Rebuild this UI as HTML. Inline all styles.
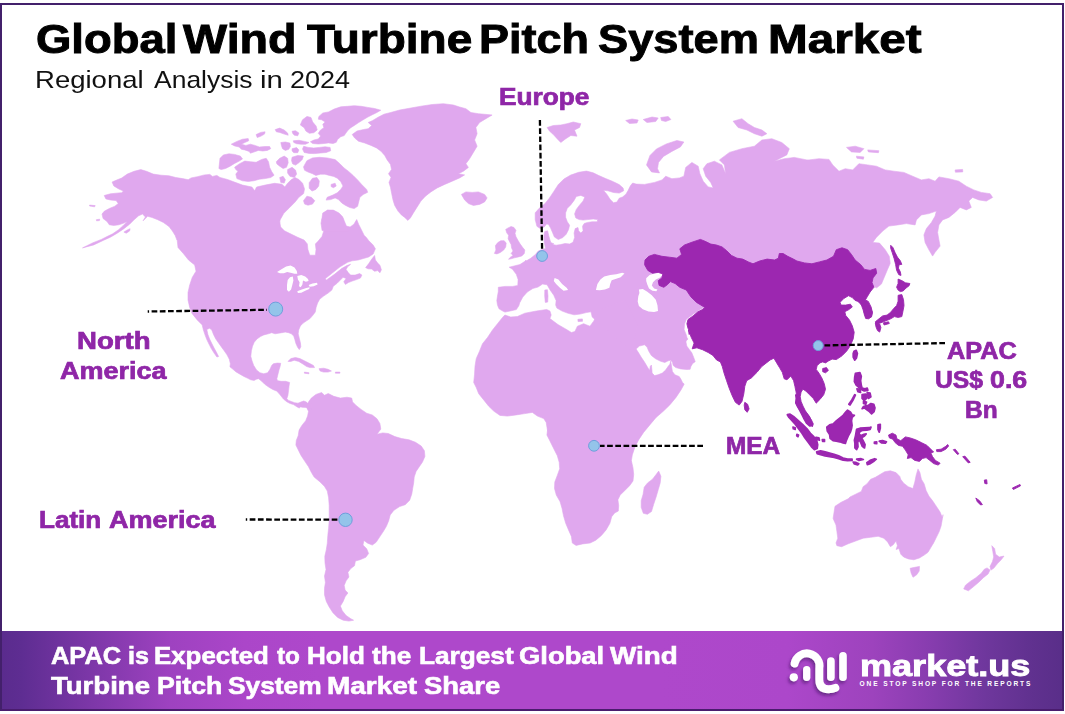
<!DOCTYPE html>
<html><head><meta charset="utf-8">
<style>
html,body{margin:0;padding:0;background:#fff;}
body{width:1065px;height:714px;position:relative;overflow:hidden;font-family:"Liberation Sans",sans-serif;}
.t{position:absolute;white-space:nowrap;line-height:1;transform-origin:0 0;}
.lbl{color:#9327ab;font-weight:bold;font-size:23px;-webkit-text-stroke:0.7px #9327ab;word-spacing:-2px;}
.bn{color:#fff;font-weight:bold;font-size:22.5px;-webkit-text-stroke:0.6px #fff;word-spacing:-2px;}
#frame{position:absolute;left:0;top:3px;width:1060px;height:703.5px;border:2px solid #43206b;border-bottom:2px solid #4a1c6e;box-sizing:content-box;}
#banner{position:absolute;left:0;top:631px;width:1064px;height:78.5px;background:linear-gradient(90deg,#5a2b8d 0%,#5e2d92 2%,#7a36a6 8%,#9e42c0 16%,#ab46c9 23%,#ae48cb 30%,#ae48cb 62%,#ac47ca 74%,#9d43bd 82%,#893db0 87%,#6f379d 92.5%,#60318f 97%,#592e89 100%);}
svg{position:absolute;left:0;top:0;}
</style></head><body>
<svg id="map" width="1065" height="714" viewBox="0 0 1065 714">
<g id="light" fill="#e0a8ee" stroke="#e0a8ee" stroke-width="0.6" stroke-linejoin="round">
<path d="M352.2,134.5 357,131 363.7,129.5 368.2,128.7 371.7,125.5 368.2,122.5 372.7,120.5 378.5,117 384,114.2 390.7,112.5 399.7,110 410.9,108 420.9,106.2 432.2,104.5 443.4,103.7 453.4,105 459.6,107 465.9,108.7 470.9,112.5 478.4,113.7 487.1,114.5 492.1,115 485.9,118.7 479.6,122.5 475.9,127.5 477.1,133.7 474.6,140 477.1,146.2 473.4,152.4 469.6,158.7 465.9,163.7 468.4,167.4 463.4,171.2 458.4,173.7 464.6,174.9 459.6,177.9 452.2,181.2 444.7,184.4 437.2,187.9 430.9,191.9 425.4,196.2 420.9,201.1 417.2,206.9 413.4,212.9 410.4,217.9 407.9,220.4 404.7,217.4 401.4,214.9 398,211.1 394.7,205.4 393,199.9 391.7,193.7 390.5,187.4 389,182.4 391,177.4 388.5,173.7 391.5,169.4 390.5,164.4 387.2,159.9 384.7,155.4 381,151.2 376.5,147.9 371,145.4 364.7,143 358.5,141.2 354.7,138Z M461.4,194.4 465.9,191.9 472.1,192.4 478.4,191.9 484.6,194.4 487.1,197.9 484.6,201.9 479.6,204.4 473.4,205.4 468.4,203.6 464.6,199.9Z M547.1,127.5 553.3,125.5 560.8,125 567,123.7 573.3,122 580.8,123.7 579.5,127.5 574.5,130 577,136.2 570.8,135.5 565.8,138.7 560.8,142.5 557.1,138.7 553.3,134.5 549.6,131.2Z M82.5,247.9 92.5,242.9 101.4,239.4 107,236.6 112.7,233.8 118.3,229.9 122.8,225.9 127.3,221.4 123.9,223.1 118.9,224.8 113.8,225.4 109.3,224.8 107,221.4 103.1,218.6 102,214.1 104.2,211.3 109.3,208.5 114.9,206.2 118.3,203.4 116.1,200.6 110.4,200 105.9,198.9 104.2,195.5 110.4,193.8 116.1,193.2 121.7,192.7 123.4,191 118.3,188.7 113.8,185.9 112.1,182 116.1,180.3 121.7,178 127.3,174.1 134.1,171.3 140.8,169.6 146.5,171.3 153.2,174.1 161.1,175.2 169,175.8 175.8,177.5 182.5,178.6 188.2,179.7 191.1,177.9 197.4,176.7 204.4,174.9 209.9,174.4 212.4,176.4 216.9,175.4 219.9,177.4 227.5,179.5 235,182.3 242.5,185.1 251.9,187 254.7,190.8 256.6,187 265.1,185.1 274.5,183.3 282,184.2 284.8,187 287.6,183.3 291.4,179.5 295.1,177.6 298.9,179.5 302.6,183.3 304.5,188.9 303.6,193.6 298.9,197.3 295.1,202 289.5,207.7 283.8,213.3 280.1,219.9 279.2,226.5 279.7,222.3 280.7,227 284.4,230.8 290,233.6 297.6,237.3 304.1,240.1 307.3,243.9 307.9,249.5 309.8,255.2 315.4,255.2 316,249.5 315.4,243.9 318.2,241.1 322,236.4 323.8,230.8 322.9,225.1 322,219.5 323.8,213.8 327.6,210.1 333.2,210.1 338.9,212.9 342.6,216.7 344.5,221.4 346.4,226.1 350.1,227 353.9,224.2 356.7,219.5 358.6,224.2 361.4,229.8 364.2,235.4 366.4,237.5 368.6,240.5 373.1,245 375.4,248.8 373.1,254 368.6,257 363.4,258.5 358.1,260 352.1,260.8 347.6,262.3 340.1,266.8 332.6,272.8 325.1,278.8 326.6,279.9 334.1,274.6 341.6,268.6 346.9,265.6 350.6,264.3 347.6,266.8 346.1,269.4 348.4,272.8 350.6,275.1 355.1,275.1 359.6,273.6 361.9,275.1 360.4,278.1 356.6,279.6 352.1,281.1 348.4,282.6 345.4,284.4 343.8,281.8 346.1,278.4 343.1,277.3 340.1,280.3 337.1,283.3 333.3,286.3 331.8,290.1 328.1,293.1 323.6,296.1 319.8,299.1 317.6,302.9 316.1,307.4 315.3,311.9 313.4,314.6 310,318.6 306.6,320.8 303.2,323.1 300.4,325.9 298.7,329.9 298.2,333.8 299.3,338.3 300.4,342.8 300.8,346.8 299.3,349.6 297.6,347.3 295.9,343.4 294.8,339.4 293.7,336.1 291.4,333.8 288.6,332.7 285.2,332.1 281.8,332.7 278.5,333.2 275.1,333.8 271.7,332.7 268.3,333.8 263.8,334.9 260.4,336.6 257,338.9 254.2,342.3 252.5,346.2 251.4,350.7 250.8,356.3 252,360.8 253.7,365.4 256.5,369.9 259.9,372.7 263.8,373.8 267.7,372.7 270,369.3 271.7,365.4 273.4,363.7 277.3,363.1 280.7,363.3 280.1,366.5 279,369.9 277.9,374.4 276.8,378.9 277.7,380.7 281.1,381.3 285.6,381.3 289.6,382.4 289,386.3 288.5,390.8 287.9,395.4 286.8,398.7 288.5,400.4 291.3,401.5 294.6,402.7 298,403.2 300.8,402.1 303.7,401 306.5,402.1 308.2,404.4 311.5,403.2 311.5,408.9 308.2,408.9 305.9,406.6 304.2,404.4 301.4,406.1 299.2,408 296.9,406.8 293.5,404.6 290.1,403.5 286.8,401.8 283.4,399 281.1,396.1 278.9,393.3 276.6,391.1 272.7,389.4 268.7,387.1 264.8,384.3 261.4,380.9 258.6,378.7 256.3,379.2 254.1,380.4 250.7,379.8 247.3,378.1 243.9,376.4 240,374.2 236.1,371.9 232.7,369.1 229.9,366.8 230.4,363.8 229.3,359.3 227,354.8 224.2,350.8 221.4,346.9 218.6,343 215.8,339 213.5,334.5 211.8,330 209.6,328.3 206.8,329.4 207.9,334.5 209.6,339 211.8,343.5 214.1,348 216.3,352 218.6,356.5 216.9,357 214.1,353.1 211.3,348.6 209,344.1 206.8,339.6 205.1,335.1 203.4,330 202.2,324.9 197.2,319.9 192.2,313.7 189.7,307.4 188,299.9 188,292.5 189.7,285 192.2,277.5 196,271.2 194.7,265 188.5,260 183.5,253.7 178,247.5 177.2,240 176.9,240 175.2,235.5 172.4,231 169,226.5 163.4,222.5 157.7,219.7 152.1,217.5 147.6,216.3 143.1,220.8 145.4,216.9 142.5,214.1 138.6,215.8 134.1,219.7 129.6,224.2 123.9,228.7 117.2,233.2 110.4,237.2 103.7,240.2 93.7,244.9Z M89.6,205.1 95.2,205.6 94.6,206.8 89.6,206Z M96.3,219.7 99.7,219.2 99.4,220.6 96.6,220.8Z M123.9,232.1 127.3,229.9 130.1,228.7 129.6,231 126.2,233.2Z M365.6,267.6 368.6,263.8 371.6,259.3 374.6,255.5 375.4,260 377.7,263.1 379.9,265.3 381.4,269.8 379.9,272.8 377.7,270.6 374.6,271.3 371.6,269.1 367.9,268.8Z M288,361.4 290.8,358.6 295.4,357.5 299.9,358.6 304.4,360.8 308.9,363.1 313.4,365.4 314.5,367.6 310,367.6 306.6,366.5 303.2,364.2 298.7,361.4 294.2,360.3 290.8,361.4Z M319,368.7 323.5,368.2 328,369.3 331.4,371 328,372.1 323.5,372.1 320.1,371Z M304.4,372.1 308.9,372.7 308.9,373.8 304.4,373.2Z M335.4,372.1 339.9,372.1 339.9,373.2 335.4,373.2Z M220,158.3 223.4,154.9 229,153.8 234.6,154.4 240.3,156.1 242.5,158.9 239.2,161.1 234.6,163.4 230.1,166.2 225.6,168.5 221.1,169.6 218.9,168.5Z M234.6,167.3 239.2,163.9 244.8,161.1 250.4,161.7 256.1,162.3 261.7,159.4 266.2,158.3 268.5,161.7 269.6,167.3 271.8,171.8 274.1,175.2 270.7,177.5 265.1,178.6 259.4,179.2 253.8,180.8 248.2,181.4 242.5,180.8 236.9,178.6 235.8,174.1 238,171.3 235.8,169.6Z M231.3,144.2 236.9,141.4 242.5,139.2 248.2,138.6 248.7,140.8 244.8,142.5 241.4,144.2 245.9,145.4 250.4,144.2 254.9,145.4 259.4,147 265.1,146.5 269.6,146.5 270.7,148.7 267.3,150.4 262.8,151 258.3,150.4 253.8,152.1 250.4,153.2 249.3,151.5 244.8,149.9 241.4,149.3 239.2,147 234.6,145.9Z M256.1,134.6 260.6,132.4 265.1,131.8 264.5,134.1 260.6,136.3 257.2,137.5Z M275.2,129.6 279.7,128.1 284.2,130.1 287.6,133 288.2,135.2 284.2,134.1 279.7,132.4 276.3,131.8Z M292.1,131.3 295.5,130.7 298.9,133 297.7,135.8 294.4,135.2 292.7,133.5Z M280.8,142.5 285.4,142 289.9,143.1 290.4,146.5 288.7,149.3 285.4,150.4 282.5,148.7 281.4,145.4Z M293.2,140.8 298.9,140.3 304.5,141.4 309,142.5 305.6,144.2 301.1,144.2 296.6,143.7 293.8,142.5Z M292.1,148.7 296.6,147.6 298.9,149.9 297.7,152.7 293.8,152.7 292.1,151Z M276.3,161.7 279.7,158.3 284.2,156.1 287.6,158.3 288.2,162.8 286.5,167.3 283.1,168.5 279.7,166.2 276.9,163.9Z M292.1,157.2 297.7,155.5 303.4,156.1 302.3,159.4 298.9,162.8 295.5,165.1 292.7,163.9 291.5,160.6Z M287.6,169.6 292.1,167.3 295.5,170.1 296.6,174.1 294.4,177.5 289.9,176.3 287.6,173Z M279.7,177.5 283.1,176.3 285.4,179.7 284.2,183.1 280.8,182.5Z M318.9,116.4 322.8,113 328.5,111.9 334.1,109.1 340.8,106.8 347.6,106.3 354.4,105.7 361.1,106.3 367.9,107.4 374.6,108.5 380.8,110.2 376.9,112.5 372.4,114.7 367.9,117 362.8,120 358.3,122.8 354.4,125.4 350.4,127.9 347.6,130.8 345.9,133.1 344.2,135.6 340.8,136.7 337.5,139.5 336.3,142.3 333,143.5 328.5,142.9 323.9,143.5 318.3,144 312.7,143.5 310.4,141.8 313.8,140.1 318.3,138.9 320.6,136.1 318.3,133.3 320.6,129.9 323.9,127.7 322.8,124.3 325.1,122 321.7,119.8 318.3,119.2Z M300.3,124.9 302.5,119.8 307,116.4 311,117.5 312.7,122 316.1,126 317.2,129.9 313.8,132.7 309.3,133.3 305.9,131.1 304.2,127.7Z M302.5,149.1 303.7,146.3 308.2,147.4 313.8,148 319.4,147.4 325.1,146.8 330.1,147.4 330.7,150.8 326.2,152.5 320.6,153 314.9,153.6 309.3,153.4 304.2,152.5Z M303.5,166.9 306.9,160.7 312.5,157.9 319.3,157.3 327.2,157.9 335.1,159.6 339.6,163.5 344.1,168 348.6,171.4 353.1,175.4 357.6,179.9 362.1,184.9 366.6,189.4 367.7,192.3 363.2,194.5 359.9,197.3 358.7,201.8 357.6,206.3 354.2,208.6 349.7,207.5 345.2,205.2 341.8,203 338.5,199.6 335.1,197.9 330.6,199.6 326.1,200.1 327.2,197.3 332.8,195.1 337.3,192.8 340.7,189.4 343,186.1 340.7,181.5 337.3,178.2 333.9,176.5 329.4,175.4 324.9,174.2 320.4,174.2 315.9,175.4 312.5,173.7 308,172 304.6,170.3Z M331.1,184.4 335.1,183.2 336.2,186.1 333.4,187.7 331.1,186.6Z M309.2,182.7 312.5,178.2 317,177.6 319.3,181 318.7,186.1 315.9,189.4 312,191.1 309.2,188.3Z M303.5,200.7 306.9,196.2 311.4,197.3 314.8,200.7 312.5,204.1 308,205.2 304.6,204.1Z M322.7,213.1 327.2,210.3 333.9,210.8 339.6,214.2 343,218.7 344.1,223.2 346.3,227.7 348.6,230.6 322.1,230.6 321,223.2 322.1,217.6Z M298.2,405.7 302.9,402.8 306.6,405.3 308.5,401.9 311.3,398.1 316,394.4 321.6,392.5 324.5,395.3 328.2,393.5 333.8,396.3 340.4,398.1 347,397.2 351.7,398.1 352.6,401.9 356.4,405.7 361.1,409.4 366.7,413.2 372.3,415 377,418.8 379.9,423.5 380.8,429.1 377,434.2 382.7,432.9 388.3,433.5 394.9,436.6 401.5,438.5 409,439.8 415.5,442.3 421.2,446 424.4,450.7 424.9,456.4 422.5,462 419.3,466.7 416.1,471.4 414.2,477 413.7,482.7 412.7,488.3 411.8,493.9 409.9,499.6 409.9,500 405.2,504.7 399.6,506.6 393.9,510.3 390.2,515 388.7,520.7 386.4,526.3 383.6,531 379.9,536.6 376.1,542.3 372.3,545.1 367.7,543.2 363.9,540.4 363,545.1 366.7,548.8 368.6,553.5 365.8,557.3 360.1,559.7 355.4,561 354.5,565.7 350.8,568.5 347.9,572.3 348.9,577 346.1,580.8 344.2,585.4 345.1,590.1 347.9,593 345.1,596.7 343.2,601.4 340.4,606.1 342.3,610.8 346.1,615.5 350.8,618.7 353.6,620.2 348.9,621.1 343.2,620.2 337.6,617.4 332.9,612.7 329.2,607 326.3,601.4 324.5,594.8 324.5,588.3 325.4,582.6 324.5,576.1 326,569.5 325,562.9 324.8,556.3 326.3,549.8 327.3,543.2 327.8,535.7 328.6,528.2 329.2,520.7 329.2,511.3 329.2,505.2 328.6,497.7 327.3,491.1 324.5,486.4 319.8,481.7 314.1,477 311.3,472.3 308.5,466.7 304.7,461.1 301,455.4 298.2,449.8 295.9,445.1 296.3,440.4 298.2,435.7 299.1,430.1 301.9,425.4 305.7,420.7 307.6,416 308.5,411.3 306.6,407.5 301.9,407.2Z M504.9,315 510.7,317 517.4,316.5 524.9,313.2 536.4,311 546.7,309.5 549.9,311 551.2,315 549.9,318.5 557.9,324.5 566.9,329.7 571.4,332.5 574.9,331.5 577.4,326.2 583.6,323.7 589.9,326.2 593.6,321.2 599.9,310 624.8,300 637.3,325 632.7,346.9 636.1,349 638.6,352.8 641.1,357 644.5,362.1 647,366.3 649.6,370.6 650.3,366.3 651.4,365.1 651.9,369.7 652.1,373.1 654.6,375.6 658,374.8 662.3,373.1 665.6,370.1 668.2,366.3 669.9,364.2 670.7,361.1 671.7,367.2 672.4,371.4 674.9,374.8 679.2,376.5 680.8,379 682.5,382.4 684.2,384.1 681,389.9 676,397.4 669.8,404.9 663.5,411.1 656.1,417.4 649.8,424.9 643.6,432.4 638.6,439.9 634.8,447.4 632.3,454.9 631.1,462.3 631.5,461.3 633,467.9 633.7,474.5 633,481 629.6,485.7 624.9,490.4 620.2,495.1 617.9,499.8 618.7,505.4 618.3,511.1 614.6,513 611.7,516.7 609.9,523.3 606.1,529.9 601.4,535.5 595.8,540.2 590.1,543 582.6,543.9 576.1,545.4 572.3,543 571.4,536.4 568.5,529.9 565.7,523.3 563.5,515.8 562,508.3 560.1,501.7 556.3,495.1 554.5,488.5 554.8,482 557.3,475.4 559.7,468.8 559.2,462.3 557.3,455.7 553.5,448.2 549.8,440.7 546.9,435 547.9,427.5 549.2,420 548.7,437.4 547.4,429.9 546.2,422.4 543.7,418.6 537.4,416.1 532.4,412.4 524.9,413.6 516.2,414.9 507.4,416.1 500,415.4 493.7,411.1 488.7,406.2 483.7,399.9 478.7,393.7 476.2,387.4 473.7,382.4 474.5,374.9 475,366.2 476.2,358.7 479.5,351.2 482.5,343.7 487.5,337.5 492.5,330 497.5,323.7 502.5,317.5Z M658.7,471.1 660.9,476.3 660.2,482.9 658.3,489.5 656.1,497 653.6,504.5 651.5,511.5 647.4,514.3 643.3,513.3 641.2,507.3 641.2,500.8 643.1,494.2 644.2,487.2 647.6,482.9 652.5,479.2 655.9,474.8Z M505,312.1 502.8,311.1 499,308.8 497.5,305.1 496.8,300.6 497.5,296.1 498.3,291.5 498.3,287.3 505,286.4 512.5,286.4 517.8,285.5 518.1,279.5 516.3,274.3 512.5,269.3 509.2,267.2 514,266 520,264.5 524.6,261.5 526.1,260 526,261.1 530.7,258.3 535.4,254.5 538.2,251.1 542.9,249.2 545.7,248.5 545.4,247.7 544.2,242.1 543.9,235.4 544.8,231.4 547.6,230.8 548.7,235.4 549.9,239.9 551,242.7 553.8,243.8 552.7,244.6 556.1,245.2 560.6,244.6 565.1,243.5 569.6,244 573,242.3 574.6,237.6 574.1,233.1 575.2,228.6 578,227.5 578.6,230.8 580.8,233.1 583.1,230.8 582.5,226.3 584.2,223.5 587.6,222.4 592.1,221.8 597.2,221.8 597.7,219.6 593.2,219 587.6,219.6 583.1,220.1 579.2,219.6 575.8,217.9 574.6,213.9 576.3,209.4 579.7,204.9 583.1,201 584.8,197 580.8,195.4 576.3,196.5 574.1,200.4 570.7,204.9 567.3,208.3 565.6,212.8 565.6,217.3 567.3,221.8 569.6,225.2 568.5,229.7 566.2,234.2 562.8,237.6 558.3,239.5 554.4,237 552.5,232.5 550.6,228 548.4,224.3 546.5,224.1 544.2,226.9 540.3,228.6 536.9,226.3 535.2,219.6 535.2,212.8 539.2,208.3 544.8,203.8 549.3,198.2 553.8,191.4 558.3,184.6 563.9,179 570.7,175.1 578.6,172.3 586.5,171.1 593.2,172.8 598.9,175.6 605.6,178.5 612.4,181.3 619.2,184.6 623.1,188 623.7,190.8 619.2,193.1 613.5,192.5 607.9,190.8 603.4,190.3 606.8,194.2 610.1,199.3 613.5,202.7 616.9,202.1 619.2,198.2 622.5,197 625.9,194.2 628.2,190.3 630.4,185.8 632.7,183 636.1,184.1 644.5,184.4 654.5,182.4 662,179.9 665.7,176.2 671.9,178.7 679.4,177.9 683.9,176.2 685.7,167.4 691.9,162.4 698.2,166.2 699.9,173.7 703.2,181.2 708.2,186.9 713.2,187.9 710.7,182.4 705.7,176.2 703.2,168.7 706.9,163.7 714.4,161.2 721.9,164.9 725.6,173.7 724.4,164.9 719.4,159.9 729.4,152.4 741.9,148.7 754.4,146.2 761.9,140 771.8,138.7 781.8,142.5 789.3,148.7 786.8,154.9 779.3,158.7 774.3,161.2 784.3,158.7 794.3,157.4 806.8,159.9 809,159.9 819,158.7 829,159.4 832.7,164.9 839,171.2 845.2,168.7 852.7,169.9 858.9,163.7 867.7,164.9 876.4,166.2 885.2,169.9 893.9,171.2 903.9,172.4 912.6,176.2 921.4,179.9 928.9,178.7 935.1,181.2 938.9,176.9 948.9,178.7 958.8,181.2 966.3,186.2 973.8,189.9 981.3,192.4 990.1,193.7 992.6,197.4 986.3,201.1 978.8,199.9 972.6,197.4 968.8,201.1 971.3,207.4 966.3,209.9 960.1,207.4 955.1,212.4 948.9,217.4 942.6,219.9 938.9,224.9 937.6,232.4 938.9,239.9 940.1,246.1 935.1,252.3 932.6,256.1 928.9,249.8 925.1,242.4 923.9,234.9 926.4,228.6 931.4,222.4 935.1,216.1 936.4,211.1 928.9,213.6 921.4,214.9 916.4,219.9 915.1,224.9 906.4,223.6 897.7,224.9 888.9,226.1 882.7,231.1 876.4,237.4 872.7,242.4 879.5,243.1 885.2,249.7 889.3,256.3 890.2,263.4 887.4,269.8 884.4,276.9 881.4,284.1 876.7,287.8 873,286.3 860,280 800,285 704.4,306.9 699.9,309.7 693.1,314.2 686.3,319.3 684.6,323.8 684.1,329.4 686.3,335.1 687.5,339.6 687.6,338.5 685.9,341.8 686.8,346.1 689.3,349.4 691.8,352.8 693.9,357.9 695.2,361.7 692.7,363.4 691,366.3 690.1,369.3 686.8,369.5 680.8,368.9 675.8,367.6 673.2,365.5 672.4,362.1 670.7,360.3 668.2,360.8 664.8,362.5 660.6,361.3 655.5,358.7 651.3,355.4 648.7,351.1 647,346.9 644.5,344.8 639.4,346.1 636.1,349 632.7,352 592.2,317.1 591,311.8 586.2,312.6 580.1,314.1 574.1,314.8 568.1,313.3 562.1,311.1 556.9,308.1 555.7,305.1 556.1,300.6 553.8,295.3 550.1,290 547.1,284.8 542.6,284 538.1,287 532.8,288.5 527.3,292 522.8,297.1 519.7,302.8 518.8,305.8 516.3,309.6 511,310.8Z M544.8,290 547.4,289.7 548,296.1 547.7,302.1 545.3,302.4 544.7,296.1Z M577.9,319.3 582.4,318.9 582.5,321.3 578,321.6Z M505.7,229.4 508.1,227.9 511.1,226.5 514,227.5 516,230.4 515,233.3 516,236.8 517.9,240.2 519.9,243.6 522.4,247.1 524.8,250 524.3,253.4 521.9,255.9 518.4,256.9 514.5,257.8 511.1,258.8 508.6,259.3 510.1,257.4 513,255.4 511.1,253.4 513,251 511.6,248 511.1,244.6 509.6,241.7 508.1,238.7 508.6,235.3 506.7,232.8Z M495.4,245.6 497.8,242.6 500.8,240.7 504.2,240.7 506.2,243.1 505.7,247.1 503.7,250 500.3,252.5 496.9,253.9 494.4,253.4 495.9,250Z M646.5,164.9 650,155.4 656.5,148.9 666.4,143.9 676.9,140.5 683.9,142 680.4,146.9 671.9,151.4 663.5,156.4 658.5,162.4 657.5,168.7 659.5,172.9 651.5,171.9Z M733.1,121.2 741.9,118.7 748.1,123.7 754.4,127.5 761.9,130 766.9,133.7 761.9,136.2 754.4,133.7 746.9,130 738.1,127.5Z M625.7,120.5 632,119 638.2,120 637,123 629.5,123.5Z M643.2,119.5 652,117 658.2,118 655.7,121.5 647,122.5Z M660.7,117.5 668.2,116.5 670.9,119.5 665.7,121.5 661.5,120.5Z M846.5,147.4 855.2,146.2 863.9,148.7 860.2,152.4 851.5,151.9Z M867.7,149.9 878.9,150.7 878.4,152.7 868.4,151.9Z M856.4,156.2 863.9,156.9 863.4,159.2 856.9,158.2Z M955.1,169.9 962.6,169.4 962.8,171.9 955.4,172.2Z M850,497 855.6,494.2 861.3,491.4 863.1,486.7 866.9,483.9 870.7,479.2 875.4,477.3 880,474.5 884.7,471.7 890.4,470.8 896,472.6 899.8,476.4 900.7,479.2 903.5,483 908.2,486.7 912.9,488.6 914.8,482 916.1,475.4 918,468.9 919.9,472.6 921.4,479.2 924.2,483.9 926.1,490.5 928.9,496.1 932.6,500.8 936.4,506.4 940.1,512.1 942.4,517.7 943,514.7 942.1,520.4 941.1,526 939.2,531.6 936.4,537.3 933.6,542.9 930.8,547.6 928,552.3 924.2,555.1 919.5,557.9 913.9,559.8 908.3,558.9 903.6,557 900.8,554.2 898.9,548.5 896.1,549.5 897.4,545.7 896.1,541 893.2,544.8 890.4,546.7 887.6,542 883.8,538.2 878.2,536.3 870.7,537.3 863.2,538.2 855.7,541 848.2,543.8 841.6,546.7 836.9,545.7 836,542.9 837.8,538.2 836.9,531.6 836,525.1 833.1,518.5 834.1,511.9 835,506.3 840.7,502.5 848.2,498.8Z M910.1,568.3 914.8,567.3 919.5,566.4 919.2,571.1 916.7,574.8 913,577.3 911.1,573Z M991.8,545.7 994.6,548.5 995.6,554.2 999.3,557 1004,556.1 1001.2,559.8 997.5,563.6 993.7,568.3 990.9,570.1 990,566.4 992.4,561.7 993.7,557 992.8,551.4Z M987.1,567.9 990,570.1 988.1,573.9 983.4,577.7 978.7,582.3 973.1,587 968.4,590.8 963.7,588.9 965.5,585.2 970.2,581.4 975.9,577.7 981.5,573 984.3,569.2Z"/>
</g>
<g id="white" fill="#fff" stroke="none">
<path d="M595.9,290 597.4,284 600.4,279.5 604.2,276.5 610.2,275 616.2,274.3 622.2,272.8 624.5,273.5 620.7,277.3 616.2,278.8 611.7,280.3 610.2,284 609.4,287.8 604.9,289.6 599.7,290.3Z M554.6,278 558.4,279.5 562.1,284 566.6,287.8 568.1,290 563.6,290.8 559.9,287.8 556.1,284 553.8,281Z M646.2,278.3 649.6,274.9 655.2,273.2 661.4,272.7 662.5,274.9 659.7,277.7 655.8,279.4 653,282.3 651.8,285.6 654.1,288.5 657.5,289.6 656.3,291.3 652.4,290.7 649,288.5 647.3,284.5 646.2,281.1Z M638.9,289.6 642.8,289 647.3,291.8 651.8,295.2 655.8,299.7 657.5,305.4 658,311 654.1,312.1 648.5,311.5 642.8,309.3 638.9,305.9 637.7,301.4 638.3,296.3 639.4,293Z M277,272.1 281.5,269.3 286.1,266.5 290.6,265.4 294.5,267.6 296.8,271 297.3,273.8 294.5,273.8 290.6,272.7 287.2,272.1 283.8,273.2 279.9,273.2Z M287.7,280 290,277.2 292.8,276.6 293.4,280.6 292.3,285.1 291.1,289.6 288.9,291.8 287,290.1 287,285.1Z M297.3,276.1 301.3,274.9 305.2,276.6 308,278.9 308.6,281.1 305.8,281.7 303,280.6 302.4,284.5 300.7,287.3 299,286.2 299.6,282.3 297.9,279.4Z M297.3,291.3 301.8,289.6 306.3,287.9 309.7,287.3 309.2,289 305.2,290.7 301.3,292.7 297.9,293Z M308.6,285.1 312.5,283.4 317,282.8 317.6,284.5 313.7,286.2 309.7,286.8Z"/>
</g>
<g id="dark" fill="#9c27b0" stroke="#9c27b0" stroke-width="0.9" stroke-linejoin="round">
<path d="M645,260 648.8,256.3 654.4,254.4 661.9,256.3 669.4,257.2 676.9,258.2 681.6,254.4 679.8,248.8 684.5,245 692,242.2 700.4,239.4 705.1,241.3 710.8,244.1 716.4,245 722,246.9 726.7,250.7 731.4,255.4 737,258.2 742.7,259.1 748.3,261.9 753,263.8 759.6,261 767.1,259.1 774.6,260 778.4,258.2 779.3,253.5 783.1,253.5 787.7,256.3 793.4,259.1 796.9,261 804.4,262.9 811.9,263.8 819.4,261.9 826.9,260 833.5,256.3 836.3,249.7 842,247.8 847.6,249.7 851.4,254.4 855.1,260 860.8,264.7 864.5,269.4 870.1,270.4 875.8,268.5 876.7,273.2 873,277.9 872,282.6 873.9,287.3 870.1,292 867.3,296.7 865.4,299.9 868.3,301.4 871.1,307 872.4,312.6 871.1,317.3 866.4,318.3 864.5,313.6 863.6,307.9 860.8,304.2 857.9,301.4 855.1,300.4 852.3,297.6 848.5,295.7 843.8,298.5 840.1,302.3 841,305.1 845.7,305.1 850.4,304.2 852.3,307 848.5,309.8 844.8,311.7 845.7,315.4 849.5,320.1 852.3,325.8 854.2,332.3 853.2,338.9 850.4,345.5 846.7,351.1 842,355.8 836.3,359.6 832.1,359.1 828.4,361 825.5,362.9 822.7,361.9 819.9,362.9 817.1,365.7 816.2,369.4 819,373.2 821.8,377.9 824.2,383.5 825.5,389.2 823.7,394.8 819.9,399.5 816.2,403.2 813.3,398.5 809.6,394.8 805.8,391 803,389.2 801.1,392 800.2,396.7 801.1,401.4 803,406.1 805.4,410.8 808.6,415.4 811.5,420.1 813.3,423.9 812.4,426.7 809.6,423.9 805.4,419.2 801.7,413.6 798.3,407.9 796.1,403.2 796.8,397.6 796.1,392 794.9,386.3 793.6,380.7 790.8,376 787,379.8 784.2,378.8 782.3,372.3 779.5,367.6 776.7,362.9 773.9,358.2 770.1,360 766.4,362.9 761.7,366.6 757,372.3 751.4,377.9 746.7,380.7 744.8,386.3 743.8,393.8 742,401.4 739.2,405.1 735.4,402.3 732.2,395.7 729.2,388.2 726.6,380.7 724.1,373.2 722.3,366.6 720.4,361.9 716.6,360 712.9,355.4 708.2,352.5 702.5,349.7 696.9,347.8 692.2,348.8 694.1,343.1 691.3,337.5 688.5,330 689.2,334.5 689.7,331.7 688,328.3 686.9,323.8 688,319.5 693.1,315.9 697.6,312 702.1,309.7 704.9,307.5 702.1,305.8 696.5,302.4 690.8,296.8 686.3,290 679.8,287.3 675.1,283.5 670.4,281.6 667.6,284.5 663.8,287.3 659.1,285.4 658.2,280.7 661.9,277.9 662.9,274.1 658.2,272.3 652.5,273.2 647.8,270.4 644.6,264.7Z M890.7,245.3 892.9,247.5 895.1,252.6 897.4,257.1 900.3,260.7 901.8,264.4 899.1,264.7 898.4,268.1 900.3,271.8 901,275.4 898.8,274.7 896.6,270.3 895.6,264.4 894.1,258.5 892.2,252.6 890.7,248.2Z M898.1,279.1 901.8,280.6 905.4,282.8 909.9,283.5 909.1,285.7 906.2,287.9 903.2,290.9 900.3,291.6 898.1,290.1 896.6,287.2 898.1,283.5Z M898.1,295.3 901.8,294.6 903.5,299.7 904,305.6 902.9,311.5 901.8,316.6 898.1,317.4 894.4,316.6 890.7,318.8 887.1,320.3 883.4,321.8 879.7,323.2 876,324 875.3,321.8 879,318.8 882.6,315.9 887.1,315.1 890.7,312.2 893.7,308.5 896.6,305.6 898.1,301.2Z M875.3,323.2 879.7,324 880.9,327.6 879.7,332.1 877.5,330.6 876,326.9Z M883.4,322.8 888.5,321.8 889.3,323.5 884.1,325Z M860.6,301.9 864.3,300.4 867.2,302.6 870.1,307.1 872.4,312.2 871.6,316.6 868.7,318.8 865.7,318.5 864.3,314.4 863.2,310 861.8,306.3Z M822.7,368.5 826.5,367.6 828.4,370.4 825.5,372.8 822.7,371.7Z M744.8,402.3 747.6,404.2 749.1,408.9 747.2,412.3 744.8,409.8 744.2,405.1Z M888.5,435.1 892.3,433.2 896,435.1 896.9,438.8 900.7,440.7 905.4,436.9 910.1,437.9 915.7,439.8 921.4,442.6 927,445.4 931.7,450.1 933.6,452 930.8,452.9 932.6,456.7 935.4,460.4 940.1,463.2 938.3,465.1 933.6,463.6 929.8,460.4 926.1,457.6 922.3,458.5 919.5,461.4 914.8,460.4 911,457.6 907.3,458.5 908.2,454.8 905.4,450.1 902.6,446.3 898.5,445.4 895.1,442.6 892.8,439.2 889.4,437.9Z M936.4,449.7 941.1,449.2 945.8,446.3 947.7,444.5 948.6,446 945.8,449.2 941.1,451.6 936.8,451.6Z M975.8,498 979.6,500.8 982.4,504.6 980.5,504.9 977.3,501.7Z M984.3,480.1 986.7,479.8 987.1,483.9 984.8,483.5Z M1012.4,488 1020,484.5 1020.5,485.8 1013.4,489.5Z M953.3,449.7 955.2,449.2 958.9,453.8 957.4,454.4Z M962.7,456.7 964.9,456.1 970.2,462.3 968.3,462.9Z"/>
</g>
<g id="dark2" fill="#9c27b0" stroke="#9c27b0" stroke-width="1.7" stroke-linejoin="round">
<path d="M787.3,414.7 790.1,414.2 793.5,416.4 798,420.4 802.5,424.3 807,428.8 810.4,433.3 813.8,436.7 816.6,440.1 817.7,444.6 817.2,448.5 814.4,449.6 811.5,446.8 808.2,442.3 804.8,437.8 802,433.3 798.6,428.8 795.2,424.3 791.8,420.4 789,417.5Z M826.8,427.1 829.6,424.9 833.5,423.7 836.3,420.9 839.7,418.1 843.1,415.3 845.9,411.9 847.6,410.2 850.4,411.9 852.1,414.7 854.4,415.3 852.1,417.5 851.5,420.9 852.1,425.4 851.5,428.8 850.4,432.2 848.2,436.1 846.5,440.1 845.4,443.5 843.1,442.9 839.7,441.8 836.3,441.2 833,440.6 830.1,438.4 829.6,434.4 827.3,431.1Z M816.6,451.9 820.6,450.8 825.1,451.9 829.6,453 834.1,454.2 838.6,455.8 843.1,458.1 847.6,459 852.1,459.2 852.1,460.4 847.6,460.6 843.1,460.1 838.6,458.7 834.1,457.5 829.6,456.7 825.1,455.8 820.6,454.7 817.2,453.6Z M853.2,462 856.1,462.4 858.9,463.7 857.7,464.9 854.4,464Z M856.6,459.2 861.1,458.7 863.4,459.5 858.9,460.4Z M866.8,462.6 870.1,460.4 874.6,458.7 876.3,459.2 873.5,461.5 869.6,464 867.3,464.6Z M856.6,429.4 860,428.2 864.5,427.9 869,427.7 871,427.1 870.1,429.4 866.8,430.2 862.3,430.5 860,431.6 858.9,433.9 861.1,435.6 863.9,434.4 866.2,433.9 864.5,436.1 861.7,437.8 863.4,441.2 865.1,444.6 864.5,448 862.3,446.3 860.6,442.3 858.9,439.5 857.7,442.3 858,446.8 856.6,449.6 854.9,448 854.9,443.5 854.4,440.1 855.5,435.6 856.1,432.2Z M878,424.9 880.3,424.3 880.3,428.2 879.2,432.2 878,429.4Z M879.2,441.2 882.5,440.6 886.5,441.8 885.4,443.2 881.4,442.9Z M874.4,442.1 876.7,441.9 876.7,443.7 874.4,443.5Z M793,427.1 795.2,427.7 795.2,429.4 793.3,428.8Z M796.9,434.4 798.6,435 798,436.7 796.7,435.8Z M822.3,439.5 824.5,439.5 824.5,441.4 822.6,441.4Z M816.1,437.3 818.9,437.8 819.4,440.1 817.7,439.5Z M795.8,395 798.6,395 798.6,399.5 799.7,404 802.5,409.6 806.5,413.6 809.3,417 811,421.5 812.1,425.4 809.9,426 806.5,423.2 804.2,419.2 802,414.7 799.7,410.2 797.5,406.3 795.8,402.9 796.3,398.4Z M855.4,373.4 859.9,372.6 861.3,376.3 860.6,380.7 861.3,385.1 862.1,388.1 865,388.8 867.2,388.1 867.9,390.3 864.3,391 862.1,390 859.1,387.6 856.2,385.1 854.4,381.5 854.7,377.1Z M856.9,388.8 859.9,389.6 860.6,392.5 857.9,391.8Z M862.1,394.7 865.7,394 867.2,397.6 864.3,400.6 862.1,398.4Z M867.2,392.5 870.1,393.2 870.9,396.9 868.7,398.4 867.6,395.4Z M863.5,401.3 866.5,402.1 865.7,404.3 863.5,403.5Z M867.9,405.7 870.9,403.5 873.8,404.3 875,407.9 874.1,411.6 871.6,413.8 869.4,411.6 867.2,410.1 864.3,407.9 862.1,408.7 863.5,406.5 865.7,405.7Z M848.8,404.3 851.8,399.9 854.7,394.7 855.4,395.1 852.9,400.3 850,405Z M854,351.3 856.2,350.3 857.4,353.5 856.5,357.9 854.7,360.1 853.2,357.2 853.2,353.5Z"/>
</g>
</svg>
<div id="banner"></div>
<div id="frame"></div>
<div class="t" id="ti0" style="left:35.96px;top:19.66px;font-size:39.8px;font-weight:bold;color:#000;-webkit-text-stroke:0.9px #000;transform:scaleX(1.1421);">Global</div>
<div class="t" id="ti1" style="left:183.40px;top:19.66px;font-size:39.8px;font-weight:bold;color:#000;-webkit-text-stroke:0.9px #000;transform:scaleX(1.1726);">Wind</div>
<div class="t" id="ti2" style="left:306.60px;top:19.66px;font-size:39.8px;font-weight:bold;color:#000;-webkit-text-stroke:0.9px #000;transform:scaleX(1.1556);">Turbine</div>
<div class="t" id="ti3" style="left:479.24px;top:19.66px;font-size:39.8px;font-weight:bold;color:#000;-webkit-text-stroke:0.9px #000;transform:scaleX(1.1301);">Pitch</div>
<div class="t" id="ti4" style="left:598.16px;top:19.66px;font-size:39.8px;font-weight:bold;color:#000;-webkit-text-stroke:0.9px #000;transform:scaleX(1.1367);">System</div>
<div class="t" id="ti5" style="left:767.60px;top:19.66px;font-size:39.8px;font-weight:bold;color:#000;-webkit-text-stroke:0.9px #000;transform:scaleX(1.1984);">Market</div>
<div class="t" id="su0" style="left:35.32px;top:68.4px;font-size:24.2px;color:#111;transform:scaleX(1.1380);">Regional</div>
<div class="t" id="su1" style="left:153.70px;top:68.4px;font-size:24.2px;color:#111;transform:scaleX(1.0944);">Analysis</div>
<div class="t" id="su2" style="left:260.37px;top:68.4px;font-size:24.2px;color:#111;transform:scaleX(1.2133);">in</div>
<div class="t" id="su3" style="left:290.08px;top:68.4px;font-size:24.2px;color:#111;transform:scaleX(1.1154);">2024</div>
<div class="t" id="eu0" style="left:498.56px;top:85.5px;font-size:23px;color:#8f26a7;font-weight:bold;-webkit-text-stroke:0.7px #8f26a7;transform:scaleX(1.1410);">Europe</div>
<div class="t" id="na0" style="left:77.10px;top:329.7px;font-size:23px;color:#8f26a7;font-weight:bold;-webkit-text-stroke:0.7px #8f26a7;transform:scaleX(1.1983);">North</div>
<div class="t" id="nb0" style="left:60.30px;top:360.1px;font-size:23px;color:#8f26a7;font-weight:bold;-webkit-text-stroke:0.7px #8f26a7;transform:scaleX(1.1725);">America</div>
<div class="t" id="la0" style="left:39.17px;top:508.8px;font-size:23px;color:#8f26a7;font-weight:bold;-webkit-text-stroke:0.7px #8f26a7;transform:scaleX(1.1340);">Latin</div>
<div class="t" id="la1" style="left:108.50px;top:508.8px;font-size:23px;color:#8f26a7;font-weight:bold;-webkit-text-stroke:0.7px #8f26a7;transform:scaleX(1.1725);">America</div>
<div class="t" id="me0" style="left:725.64px;top:434.7px;font-size:23px;color:#8f26a7;font-weight:bold;-webkit-text-stroke:0.7px #8f26a7;transform:scaleX(1.0600);">MEA</div>
<div class="t" id="ap0" style="left:946.80px;top:339.6px;font-size:23px;color:#8f26a7;font-weight:bold;-webkit-text-stroke:0.7px #8f26a7;transform:scaleX(1.0984);">APAC</div>
<div class="t" id="us0" style="left:934.52px;top:369.4px;font-size:23px;color:#8f26a7;font-weight:bold;-webkit-text-stroke:0.7px #8f26a7;transform:scaleX(1.0750);">US$</div>
<div class="t" id="us1" style="left:990.44px;top:369.4px;font-size:23px;color:#8f26a7;font-weight:bold;-webkit-text-stroke:0.7px #8f26a7;transform:scaleX(1.1645);">0.6</div>
<div class="t" id="bb0" style="left:965.14px;top:398.5px;font-size:23px;color:#8f26a7;font-weight:bold;-webkit-text-stroke:0.7px #8f26a7;transform:scaleX(1.0621);">Bn</div>
<div class="t" id="ba0" style="left:50.60px;top:644.7px;font-size:23.6px;color:#fff;font-weight:bold;-webkit-text-stroke:0.6px #fff;transform:scaleX(1.0769);">APAC</div>
<div class="t" id="ba1" style="left:127.64px;top:644.7px;font-size:23.6px;color:#fff;font-weight:bold;-webkit-text-stroke:0.6px #fff;transform:scaleX(1.0611);">is</div>
<div class="t" id="ba2" style="left:154.30px;top:644.7px;font-size:23.6px;color:#fff;font-weight:bold;-webkit-text-stroke:0.6px #fff;transform:scaleX(1.0951);">Expected</div>
<div class="t" id="ba3" style="left:277.10px;top:644.7px;font-size:23.6px;color:#fff;font-weight:bold;-webkit-text-stroke:0.6px #fff;transform:scaleX(1.0318);">to</div>
<div class="t" id="ba4" style="left:307.20px;top:644.7px;font-size:23.6px;color:#fff;font-weight:bold;-webkit-text-stroke:0.6px #fff;transform:scaleX(1.1040);">Hold</div>
<div class="t" id="ba5" style="left:372.40px;top:644.7px;font-size:23.6px;color:#fff;font-weight:bold;-webkit-text-stroke:0.6px #fff;transform:scaleX(1.1086);">the</div>
<div class="t" id="ba6" style="left:418.69px;top:644.7px;font-size:23.6px;color:#fff;font-weight:bold;-webkit-text-stroke:0.6px #fff;transform:scaleX(1.1107);">Largest</div>
<div class="t" id="ba7" style="left:519.14px;top:644.7px;font-size:23.6px;color:#fff;font-weight:bold;-webkit-text-stroke:0.6px #fff;transform:scaleX(1.1606);">Global</div>
<div class="t" id="ba8" style="left:609.50px;top:644.7px;font-size:23.6px;color:#fff;font-weight:bold;-webkit-text-stroke:0.6px #fff;transform:scaleX(1.1786);">Wind</div>
<div class="t" id="bc0" style="left:51.40px;top:674.5px;font-size:23.6px;color:#fff;font-weight:bold;-webkit-text-stroke:0.6px #fff;transform:scaleX(1.1679);">Turbine</div>
<div class="t" id="bc1" style="left:156.77px;top:674.5px;font-size:23.6px;color:#fff;font-weight:bold;-webkit-text-stroke:0.6px #fff;transform:scaleX(1.1321);">Pitch</div>
<div class="t" id="bc2" style="left:227.78px;top:674.5px;font-size:23.6px;color:#fff;font-weight:bold;-webkit-text-stroke:0.6px #fff;transform:scaleX(1.1159);">System</div>
<div class="t" id="bc3" style="left:326.82px;top:674.5px;font-size:23.6px;color:#fff;font-weight:bold;-webkit-text-stroke:0.6px #fff;transform:scaleX(1.1840);">Market</div>
<div class="t" id="bc4" style="left:424.44px;top:674.5px;font-size:23.6px;color:#fff;font-weight:bold;-webkit-text-stroke:0.6px #fff;transform:scaleX(1.1609);">Share</div>
<div class="t" id="mk" style="left:859.8px;top:651.1px;font-size:30px;font-weight:bold;color:#fff;-webkit-text-stroke:0.9px #fff;transform:scaleX(1.202);">market.us</div>
<div class="t" id="tag" style="left:859.6px;top:680.9px;font-size:6.6px;font-weight:bold;color:#fff;letter-spacing:1.86px;transform:scaleX(1.0);">ONE STOP SHOP FOR THE REPORTS</div>
<svg id="over" width="1065" height="714" viewBox="0 0 1065 714">
<defs><filter id="ds" x="-30%" y="-30%" width="160%" height="160%"><feDropShadow dx="-1.5" dy="2.5" stdDeviation="1.6" flood-color="#3c1460" flood-opacity="0.55"/></filter></defs>
<g id="logo" fill="none" stroke="#fff" stroke-linecap="round" stroke-linejoin="round" filter="url(#ds)">
<path d="M794.6,663.5 A12.4,12.4 0 0 1 819.3,668.3 L819.3,679.5 Q819.3,689.2 828.6,689.2 Q832.5,689.2 835.4,687.9" stroke-width="7.9"/>
<line x1="806.7" y1="669.6" x2="806.7" y2="677.3" stroke-width="7.3"/>
<line x1="830.9" y1="661" x2="830.9" y2="677.2" stroke-width="7.6"/>
<line x1="843" y1="655.7" x2="843" y2="677.2" stroke-width="7.6"/>
<circle cx="793.8" cy="677.3" r="4.1" fill="#fff" stroke="none"/>
</g>
<g stroke="#000" stroke-width="2.3" stroke-dasharray="5.7 2.5" fill="none">
<line x1="539.9" y1="120" x2="542.1" y2="250" stroke-dashoffset="0"/>
<line x1="147.7" y1="311.5" x2="267" y2="309.8" stroke-dashoffset="4.3"/>
<line x1="245.8" y1="519.5" x2="338.5" y2="519.6" stroke-dashoffset="4.3"/>
<line x1="703" y1="445.9" x2="600" y2="445.9" stroke-dashoffset="0"/>
<line x1="945" y1="343.1" x2="824" y2="345.4" stroke-dashoffset="0"/>
</g>
<g fill="#94c4ea" stroke="#6f9fdc" stroke-width="1">
<circle cx="542.1" cy="256" r="5.4"/>
<circle cx="275.7" cy="309.1" r="7"/>
<circle cx="345.5" cy="519.8" r="6.7"/>
<circle cx="594" cy="445.8" r="5.4"/>
<circle cx="818.2" cy="345.6" r="5"/>
</g>
</svg>
</body></html>
